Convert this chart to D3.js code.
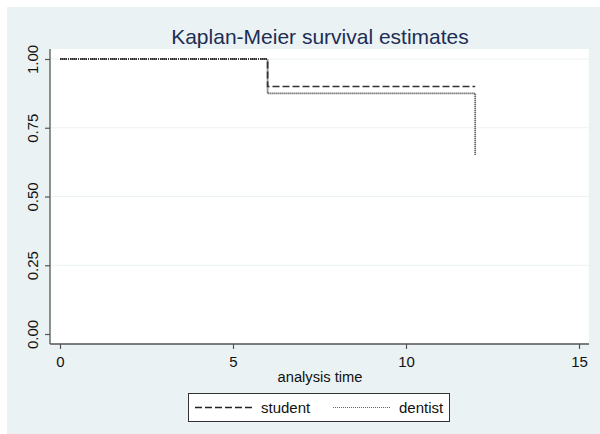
<!DOCTYPE html>
<html>
<head>
<meta charset="utf-8">
<script src="https://cdn.jsdelivr.net/npm/d3@7"></script>
<style>
body { margin: 0; background: #fff; }
text { font-family: "Liberation Sans", Arial, sans-serif; }
</style>
</head>
<body>
<svg id="svg1" width="600" height="434"></svg>
<script>
// data
var studentTime = [0, 6, 6, 12];
var studentSurv = [1.0, 1.0, 0.9, 0.9];
var dentistTime = [0, 6, 6, 12, 12];
var dentistSurv = [1.0, 1.0, 0.875, 0.875, 0.65];
var xTicks = [0, 5, 10, 15];
var yTicks = [0, 0.25, 0.5, 0.75, 1];
var seriesNames = ['student', 'dentist'];

var svg = d3.select('#svg1');

// outer background
svg.append('rect')
    .attr('x', 7).attr('y', 7)
    .attr('width', 593).attr('height', 427)
    .attr('fill', '#eaf2f3');

var plotLeft = 50, plotRight = 589, plotTop = 49, plotBottom = 344;

svg.append('rect')
    .attr('x', plotLeft).attr('y', plotTop)
    .attr('width', plotRight - plotLeft).attr('height', plotBottom - plotTop)
    .attr('fill', '#ffffff');

var scaleX = d3.scaleLinear().domain([0, 15]).range([60, 579]);
var scaleY = d3.scaleLinear().domain([0, 1]).range([334, 59]);

// gridlines
svg.append('g').selectAll('line')
    .data(yTicks.filter(function(d){ return d > 0; }))
    .enter().append('line')
    .attr('x1', plotLeft).attr('x2', plotRight)
    .attr('y1', function(d){ return scaleY(d); })
    .attr('y2', function(d){ return scaleY(d); })
    .attr('stroke', '#eaf2f3')
    .attr('stroke-width', 1);

// axes
var xAxis = svg.append('g')
    .attr('transform', 'translate(0,' + plotBottom + ')')
    .call(d3.axisBottom(scaleX).tickValues(xTicks).tickSize(5).tickPadding(7).tickFormat(d3.format('d')));
xAxis.select('.domain').attr('d', 'M' + plotLeft + ',0H' + plotRight);

var yAxis = svg.append('g')
    .attr('transform', 'translate(' + plotLeft + ',0)')
    .call(d3.axisLeft(scaleY).tickValues(yTicks).tickSize(5).tickFormat(d3.format('.2f')));
yAxis.select('.domain').attr('d', 'M0,' + plotTop + 'V' + plotBottom);

svg.selectAll('.domain').attr('stroke', '#555').attr('stroke-width', 1.3);
svg.selectAll('.tick line').attr('stroke', '#555').attr('stroke-width', 1.2);
xAxis.selectAll('text').attr('font-size', 15).attr('fill', '#111').attr('font-family', '"Liberation Sans", Arial, sans-serif');
yAxis.selectAll('text')
    .attr('font-size', 15).attr('fill', '#111')
    .attr('font-family', '"Liberation Sans", Arial, sans-serif')
    .attr('transform', 'rotate(-90)')
    .attr('x', 0).attr('y', -12).attr('dy', 0)
    .attr('text-anchor', 'middle');

// survival step lines
var line = d3.line()
    .x(function(d){ return scaleX(d[0]); })
    .y(function(d){ return scaleY(d[1]); });

svg.append('path')
    .datum(dentistTime.map(function(t, i){ return [t, dentistSurv[i]]; }))
    .attr('d', line)
    .attr('fill', 'none')
    .attr('stroke', '#333')
    .attr('stroke-width', 1.8)
    .attr('stroke-dasharray', '1,1');

svg.append('path')
    .datum(studentTime.map(function(t, i){ return [t, studentSurv[i]]; }))
    .attr('d', line)
    .attr('fill', 'none')
    .attr('stroke', '#333')
    .attr('stroke-width', 1.7)
    .attr('stroke-dasharray', '7,3');

// title and axis label
svg.append('text')
    .attr('x', 320).attr('y', 44)
    .attr('text-anchor', 'middle')
    .attr('font-size', 21)
    .attr('fill', '#1e2d53')
    .text('Kaplan-Meier survival estimates');

svg.append('text')
    .attr('x', 320).attr('y', 382)
    .attr('text-anchor', 'middle')
    .attr('font-size', 14.7)
    .attr('fill', '#111')
    .text('analysis time');

// legend
var legend = svg.append('g');
legend.append('rect')
    .attr('x', 188.5).attr('y', 393.5)
    .attr('width', 261).attr('height', 28)
    .attr('fill', '#fff')
    .attr('stroke', '#333').attr('stroke-width', 1);

var legendX = [195, 333];
var legendDash = ['7,3', '1,1'];
seriesNames.forEach(function(name, i){
    legend.append('line')
        .attr('x1', legendX[i]).attr('x2', legendX[i] + 57)
        .attr('y1', 407.5).attr('y2', 407.5)
        .attr('stroke', i === 0 ? '#222' : '#666')
        .attr('stroke-width', i === 0 ? 1.6 : 1.2)
        .attr('stroke-dasharray', legendDash[i]);
    legend.append('text')
        .attr('x', legendX[i] + 66).attr('y', 413)
        .attr('font-size', 15)
        .attr('fill', '#111')
        .text(name);
});
</script>
</body>
</html>
